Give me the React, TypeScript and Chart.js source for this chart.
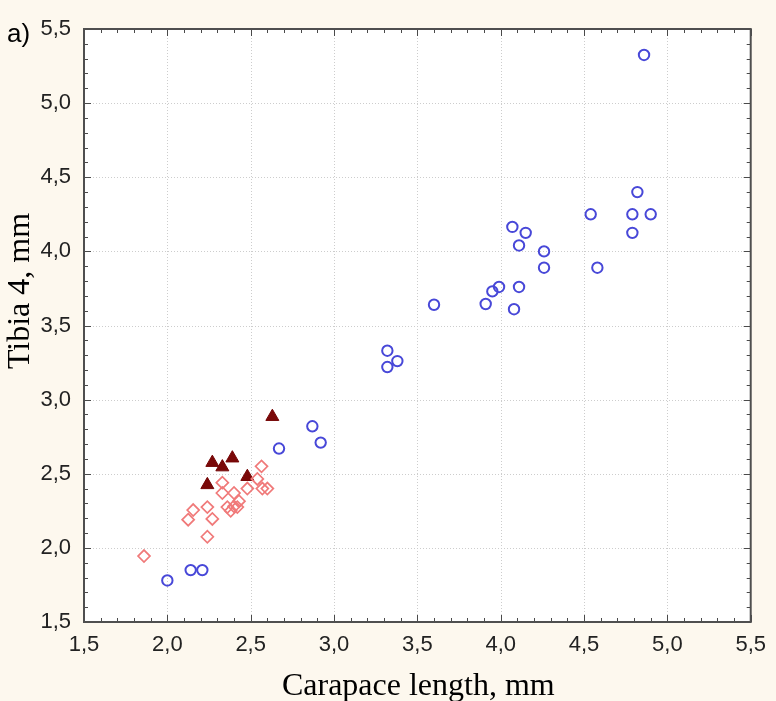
import React, { useEffect, useRef } from 'react';
import { Chart, registerables } from 'chart.js';

Chart.register(...registerables);

const xTicks = [1.5, 2.0, 2.5, 3.0, 3.5, 4.0, 4.5, 5.0, 5.5];
const yTicks = [1.5, 2.0, 2.5, 3.0, 3.5, 4.0, 4.5, 5.0, 5.5];

const circleX = [2.0, 2.14, 2.21, 2.67, 2.87, 2.92, 3.32, 3.38, 3.32, 3.6, 3.91, 3.95, 3.99, 4.07, 4.15, 4.11, 4.11, 4.08, 4.26, 4.26, 4.54, 4.58, 4.79, 4.79, 4.82, 4.9, 4.86];
const circleY = [1.78, 1.85, 1.85, 2.67, 2.82, 2.71, 3.33, 3.26, 3.22, 3.64, 3.645, 3.73, 3.76, 4.165, 4.125, 4.04, 3.76, 3.61, 4.0, 3.89, 4.25, 3.89, 4.25, 4.125, 4.4, 4.25, 5.325];

const diamondX = [1.86, 2.565, 2.54, 2.33, 2.48, 2.57, 2.6, 2.33, 2.4, 2.43, 2.4, 2.36, 2.42, 2.38, 2.24, 2.155, 2.125, 2.27, 2.24];
const diamondY = [1.945, 2.55, 2.465, 2.44, 2.4, 2.4, 2.4, 2.37, 2.37, 2.315, 2.28, 2.275, 2.275, 2.25, 2.275, 2.255, 2.19, 2.195, 2.075];

const triangleX = [2.63, 2.39, 2.27, 2.33, 2.24, 2.48];
const triangleY = [2.885, 2.605, 2.575, 2.545, 2.425, 2.48];

const xTitle = 'Carapace length, mm';
const yTitle = 'Tibia 4, mm';
const panelLabel = 'a)';

const fmt = (v: number) => v.toFixed(1).replace('.', ',');

const toPoints = (xs: number[], ys: number[]) => xs.map((x, i) => ({ x, y: ys[i] }));

const framePlugin = {
  id: 'frame',
  beforeDatasetsDraw(chart: any) {
    const { ctx, chartArea: a, scales } = chart;
    const xs = scales.x;
    const ys = scales.y;
    ctx.save();
    ctx.fillStyle = '#ffffff';
    ctx.fillRect(a.left, a.top, a.right - a.left, a.bottom - a.top);

    // dotted grid
    ctx.strokeStyle = '#cdcdcd';
    ctx.lineWidth = 1;
    ctx.setLineDash([1, 2]);
    xTicks.forEach((v) => {
      const p = Math.round(xs.getPixelForValue(v)) + 0.5;
      if (p > a.left + 2 && p < a.right - 2) {
        ctx.beginPath();
        ctx.moveTo(p, a.top);
        ctx.lineTo(p, a.bottom);
        ctx.stroke();
      }
    });
    yTicks.forEach((v) => {
      const p = Math.round(ys.getPixelForValue(v)) + 0.5;
      if (p > a.top + 2 && p < a.bottom - 2) {
        ctx.beginPath();
        ctx.moveTo(a.left, p);
        ctx.lineTo(a.right, p);
        ctx.stroke();
      }
    });
    ctx.setLineDash([]);

    // inward ticks (major + minor) on all four sides
    ctx.strokeStyle = '#4a4a4a';
    ctx.lineWidth = 1;
    const xMin = xTicks[0];
    const xMax = xTicks[xTicks.length - 1];
    const nx = Math.round((xMax - xMin) / 0.1);
    for (let i = 0; i <= nx; i++) {
      const v = xMin + i * 0.1;
      const p = Math.round(xs.getPixelForValue(v)) + 0.5;
      const len = i % 5 === 0 ? 7 : 4;
      ctx.beginPath();
      ctx.moveTo(p, a.bottom);
      ctx.lineTo(p, a.bottom - len);
      ctx.moveTo(p, a.top);
      ctx.lineTo(p, a.top + len);
      ctx.stroke();
    }
    const yMin = yTicks[0];
    const yMax = yTicks[yTicks.length - 1];
    const ny = Math.round((yMax - yMin) / 0.1);
    for (let i = 0; i <= ny; i++) {
      const v = yMin + i * 0.1;
      const p = Math.round(ys.getPixelForValue(v)) + 0.5;
      const len = i % 5 === 0 ? 7 : 4;
      ctx.beginPath();
      ctx.moveTo(a.left, p);
      ctx.lineTo(a.left + len, p);
      ctx.moveTo(a.right, p);
      ctx.lineTo(a.right - len, p);
      ctx.stroke();
    }

    // frame
    ctx.strokeStyle = '#4f4f4f';
    ctx.lineWidth = 2;
    ctx.strokeRect(a.left, a.top, a.right - a.left, a.bottom - a.top);
    ctx.restore();
  },
  afterDraw(chart: any) {
    const { ctx, chartArea: a } = chart;
    ctx.save();
    ctx.fillStyle = '#000000';
    // panel label
    ctx.font = '26px "Liberation Sans", Arial, sans-serif';
    ctx.textAlign = 'left';
    ctx.textBaseline = 'alphabetic';
    ctx.fillText(panelLabel, 7, 42);
    // x title
    ctx.font = '32px "Liberation Serif", "Times New Roman", serif';
    ctx.textAlign = 'center';
    ctx.fillText(xTitle, (a.left + a.right) / 2 + 1, 695);
    // y title
    ctx.translate(29, 291);
    ctx.rotate(-Math.PI / 2);
    ctx.fillText(yTitle, 0, 0);
    ctx.restore();
  },
};

export default function App() {
  const canvasRef = useRef<HTMLCanvasElement | null>(null);

  useEffect(() => {
    if (!canvasRef.current) return;
    const tickFont = { family: '"Liberation Sans", Arial, sans-serif', size: 22 };
    const chart = new Chart(canvasRef.current, {
      type: 'scatter',
      data: {
        datasets: [
          {
            label: 'circles',
            data: toPoints(circleX, circleY),
            pointStyle: 'circle',
            pointRadius: 5.2,
            borderWidth: 2,
            borderColor: '#4848d8',
            backgroundColor: 'rgba(0,0,0,0)',
          },
          {
            label: 'diamonds',
            data: toPoints(diamondX, diamondY),
            pointStyle: 'rectRot',
            pointRadius: 6,
            borderWidth: 1.7,
            borderColor: '#f07a7a',
            backgroundColor: 'rgba(0,0,0,0)',
          },
          {
            label: 'triangles',
            data: toPoints(triangleX, triangleY),
            pointStyle: 'triangle',
            pointRadius: 7.5,
            borderWidth: 1,
            borderColor: '#740404',
            backgroundColor: '#7a0808',
          },
        ],
      },
      options: {
        animation: false,
        responsive: false,
        events: [],
        layout: { padding: { top: 29, right: 20, left: 0, bottom: 0 } },
        plugins: {
          legend: { display: false },
          tooltip: { enabled: false },
        },
        scales: {
          x: {
            type: 'linear',
            min: xTicks[0],
            max: xTicks[xTicks.length - 1],
            grid: { display: false, drawTicks: false },
            border: { display: false },
            afterBuildTicks: (s: any) => {
              s.ticks = xTicks.map((v) => ({ value: v }));
            },
            afterFit: (s: any) => {
              s.height = 79;
            },
            ticks: {
              padding: 10,
              maxRotation: 0,
              autoSkip: false,
              color: '#222222',
              font: tickFont,
              callback: (v: any) => fmt(Number(v)),
            },
          },
          y: {
            type: 'linear',
            min: yTicks[0],
            max: yTicks[yTicks.length - 1],
            grid: { display: false, drawTicks: false },
            border: { display: false },
            afterBuildTicks: (s: any) => {
              s.ticks = yTicks.map((v) => ({ value: v }));
            },
            afterFit: (s: any) => {
              s.width = 84;
            },
            ticks: {
              padding: 13,
              autoSkip: false,
              color: '#222222',
              font: tickFont,
              callback: (v: any) => fmt(Number(v)),
            },
          },
        },
      },
      plugins: [framePlugin],
    });
    return () => chart.destroy();
  }, []);

  return (
    <div
      style={{
        position: 'fixed',
        left: 0,
        top: 0,
        width: 776,
        height: 701,
        background: '#fdf8ee',
      }}
    >
      <canvas ref={canvasRef} width={776} height={701} style={{ display: 'block' }} />
    </div>
  );
}
